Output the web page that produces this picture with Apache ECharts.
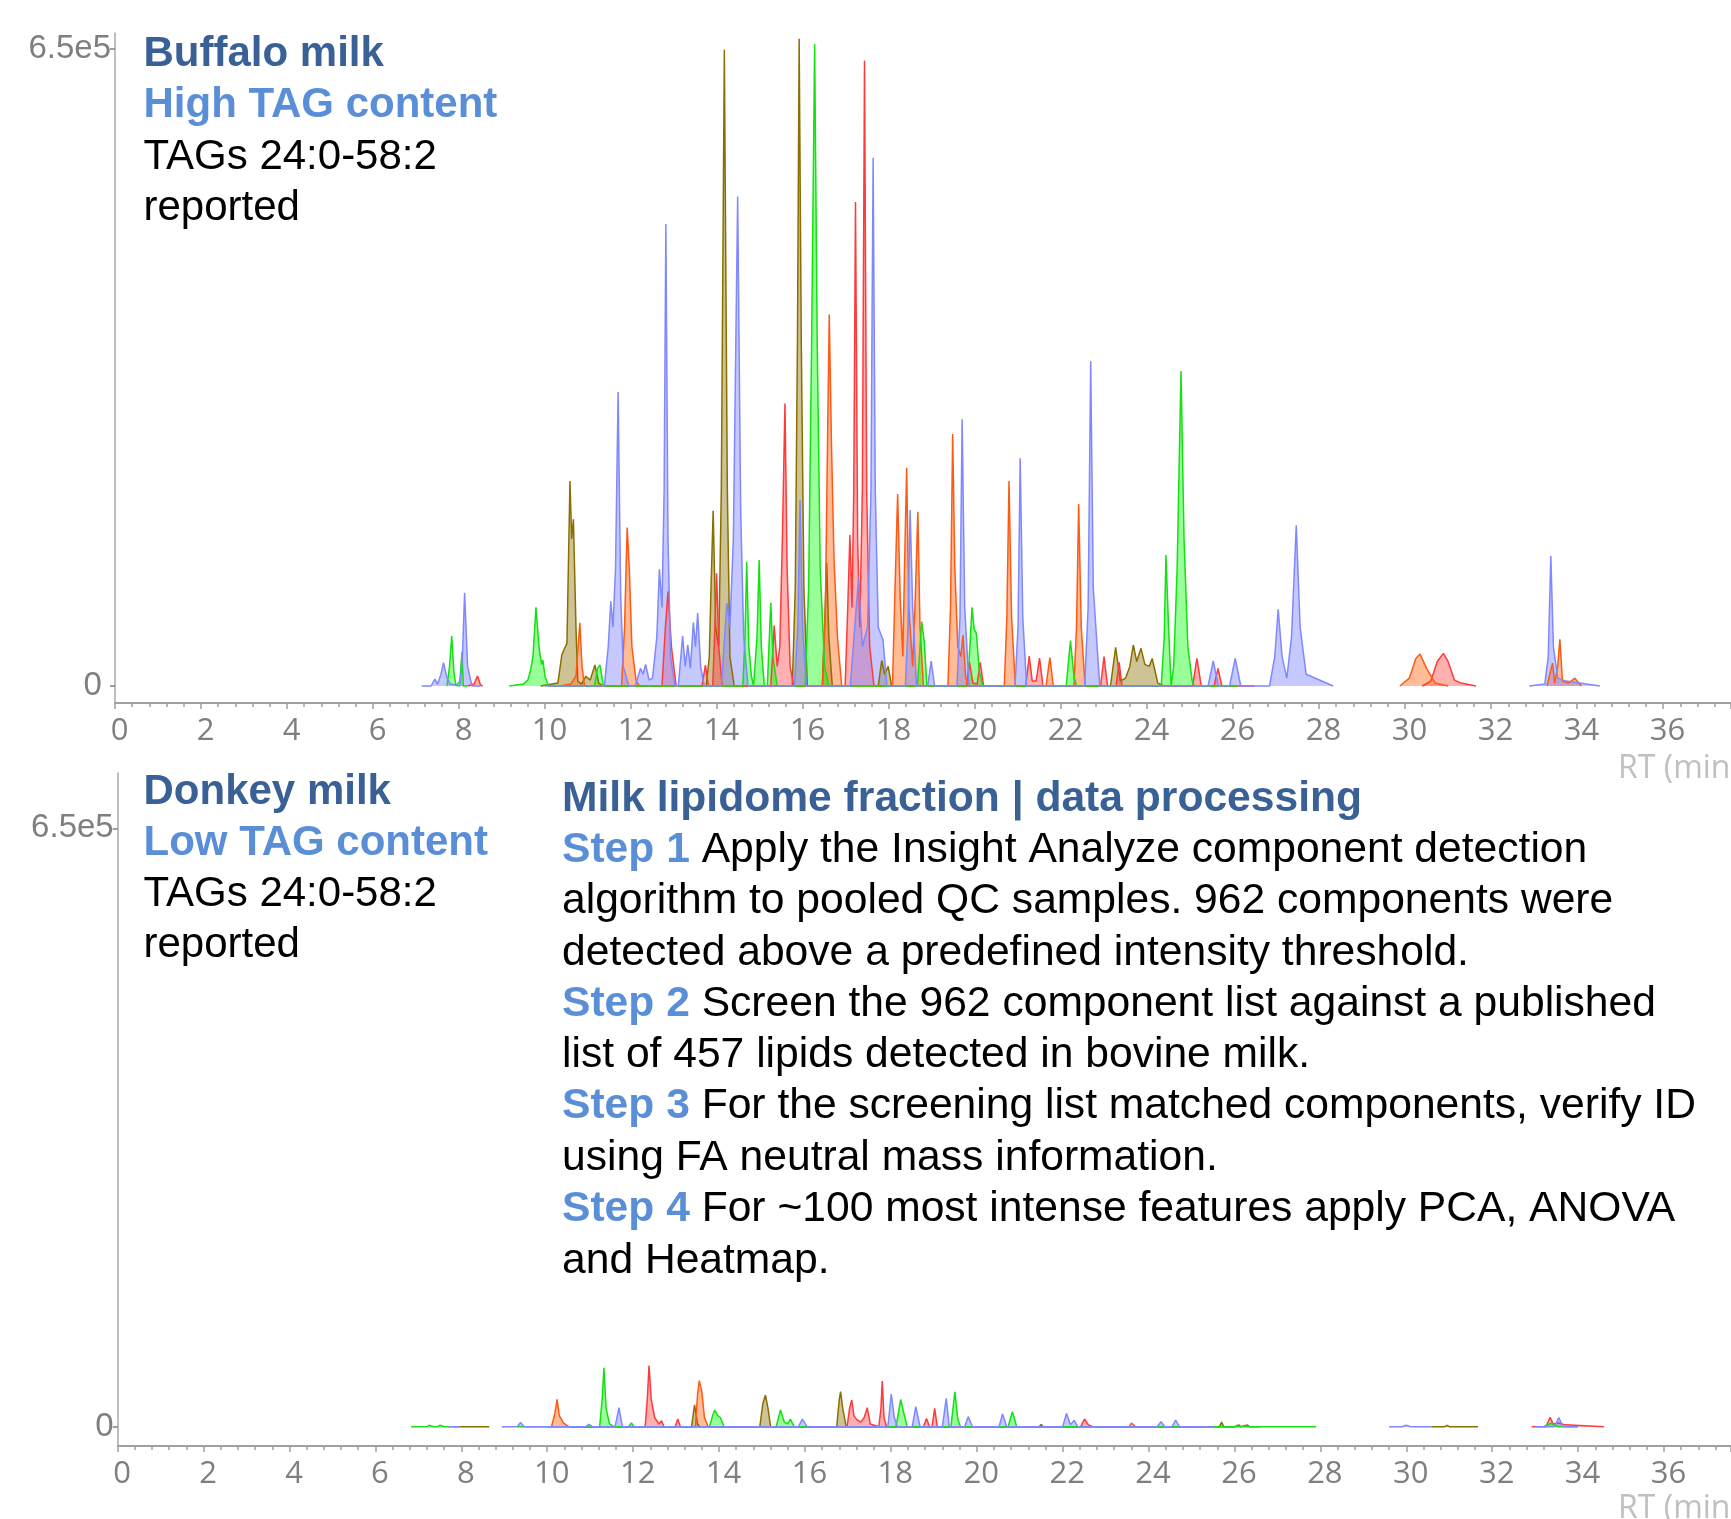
<!DOCTYPE html>
<html>
<head>
<meta charset="utf-8">
<script src="https://cdn.jsdelivr.net/npm/echarts@6.0.0/dist/echarts.min.js"></script>
<style>
  html, body { margin: 0; padding: 0; background: #fff; }
  #chart { width: 1731px; height: 1519px; }
</style>
</head>
<body>
<div id="chart"></div>
<script>
// tick labels
const xTickValues = [0, 2, 4, 6, 8, 10, 12, 14, 16, 18, 20, 22, 24, 26, 28, 30, 32, 34, 36]
const yTickValues = [0, 650000]
const yTickText = ['0', '6.5e5']

// Buffalo milk traces: [RT (min), intensity]
const topBlue = [
  [7.13,0],[7.35,0],[7.44,7000],[7.5,2000],[7.58,12000],[7.64,23800],[7.72,8000],[7.8,2000],[8.02,0],[8.08,30000],[8.13,95100],[8.2,20000],[8.3,0],[8.5,0],[8.5,null],
  [10.0,0],[11.38,0],[11.47,40000],[11.53,86400],[11.58,60000],[11.64,120000],[11.7,299700],[11.76,90000],[11.82,20000],[11.95,0],
  [12.1,0],[12.22,18000],[12.28,12000],[12.34,22000],[12.42,6000],[12.5,8000],[12.6,50000],[12.66,119000],[12.72,80000],[12.77,200000],[12.81,471000],[12.86,150000],[12.92,30000],[13.02,0],
  [13.1,0],[13.2,51000],[13.26,20000],[13.32,42000],[13.38,18000],[13.45,64600],[13.5,40000],[13.55,74400],[13.62,20000],[13.7,0],
  [14.1,0],[14.23,84600],[14.3,60000],[14.38,150000],[14.48,499000],[14.55,180000],[14.62,50000],[14.72,0],
  [15.8,0],[15.88,60000],[15.93,189600],[15.99,60000],[16.08,0],
  [17.1,0],[17.29,110000],[17.38,40000],[17.5,60000],[17.58,200000],[17.63,538500],[17.68,200000],[17.75,60000],[17.86,47000],[17.95,0],
  [18.38,0],[18.44,60000],[18.49,179400],[18.55,80000],[18.64,0],
  [18.9,0],[18.98,25500],[19.06,0],
  [19.58,0],[19.65,70000],[19.7,271900],[19.76,80000],[19.86,0],
  [20.93,0],[21.0,60000],[21.05,232100],[21.11,70000],[21.2,0],
  [22.55,0],[22.63,80000],[22.69,331400],[22.75,100000],[22.9,0],
  [25.42,0],[25.54,25500],[25.66,0],[25.92,0],[26.05,28200],[26.18,0],
  [26.85,0],[26.97,30000],[27.05,78200],[27.14,30000],[27.25,8000],[27.36,50000],[27.47,163800],[27.56,60000],[27.7,12000],[28.33,0],[28.33,null],
  [32.89,0],[33.25,2000],[33.33,30000],[33.39,132500],[33.45,40000],[33.55,8000],[33.75,5000],[34.53,0]
]
const topGreen = [
  [7.72,0],[7.78,20000],[7.83,51000],[7.88,15000],[7.93,0],[8.02,5000],[8.07,35000],[8.1,0],[8.2,0],[8.2,null],
  [9.17,0],[9.5,2000],[9.6,6000],[9.65,13500],[9.72,30000],[9.79,80200],[9.86,40000],[9.92,22000],[9.95,26500],[10.0,10000],[10.08,0],
  [11.15,0],[11.22,18000],[11.28,21400],[11.36,0],
  [14.6,0],[14.65,50000],[14.69,126700],[14.74,40000],[14.8,10000],[14.85,0],[14.93,50000],[14.98,128400],[15.03,40000],[15.1,0],
  [15.17,0],[15.25,84900],[15.3,30000],[15.4,0],
  [16.05,0],[16.13,100000],[16.2,350000],[16.27,654400],[16.33,350000],[16.4,120000],[16.5,20000],[16.6,0],
  [18.66,0],[18.76,65600],[18.82,45000],[18.88,0],
  [19.83,0],[19.93,80200],[19.98,58000],[20.03,54000],[20.1,15000],[20.18,0],
  [22.12,0],[22.22,46200],[22.3,10000],[22.36,0],
  [24.33,0],[24.4,50000],[24.44,133600],[24.5,60000],[24.56,0],[24.62,20000],[24.7,120000],[24.79,321200],[24.86,150000],[24.95,40000],[25.05,5000],[25.1,0],[26.12,0]
]
const topOlive = [
  [9.9,0],[10.3,3000],[10.39,31600],[10.45,38000],[10.51,43500],[10.58,209000],[10.62,150000],[10.66,170000],[10.72,60000],[10.76,5000],[10.85,2000],[10.95,10000],[11.05,6000],[11.16,21400],[11.25,3000],[11.35,0],
  [13.75,0],[13.82,30000],[13.86,100000],[13.91,178700],[13.97,60000],[14.04,40000],[14.1,200000],[14.17,648700],[14.24,200000],[14.3,30000],[14.4,0],
  [15.75,0],[15.82,100000],[15.87,350000],[15.91,660000],[15.96,350000],[16.02,100000],[16.1,0],
  [16.45,0],[16.5,60000],[16.55,125700],[16.6,50000],[16.68,0],
  [17.75,0],[17.83,26000],[17.9,12000],[17.98,20000],[18.06,0],
  [23.15,0],[23.27,39400],[23.38,5000],[23.5,8000],[23.6,20000],[23.68,41800],[23.76,25000],[23.86,38400],[23.95,22000],[24.05,20000],[24.12,28000],[24.25,3000],[24.4,0],[25.0,0]
]
const topRed = [
  [8.2,0],[8.35,2000],[8.43,10200],[8.5,1000],[8.55,0],[8.55,null],
  [10.5,0],[12.72,0],[12.8,60000],[12.86,96600],[12.94,40000],[13.05,0],
  [13.65,0],[13.73,21400],[13.8,0],
  [13.9,0],[13.95,60000],[13.99,115000],[14.04,40000],[14.12,0],
  [15.25,0],[15.33,61600],[15.4,20000],[15.46,40000],[15.52,150000],[15.58,288000],[15.63,120000],[15.7,20000],[15.78,0],
  [16.98,0],[17.04,80000],[17.09,154000],[17.14,80000],[17.18,200000],[17.22,493500],[17.27,150000],[17.32,60000],[17.38,200000],[17.43,637500],[17.48,200000],[17.55,40000],[17.65,0],
  [19.8,0],[19.87,24500],[19.95,3000],[20.05,2000],[20.12,24000],[20.2,0],
  [21.18,0],[21.26,30600],[21.33,5000],[21.42,5000],[21.5,28500],[21.58,0],
  [22.92,0],[23.0,29900],[23.08,0],[23.28,0],[23.35,24000],[23.42,0],
  [25.06,0],[25.16,28200],[25.26,0],[25.56,0],[25.65,18000],[25.74,0],[26.5,0],[26.5,null],
  [30.4,0],[30.6,5000],[30.75,25000],[30.89,33300],[31.0,25000],[31.15,6000],[31.3,3000],[31.65,0]
]
const topOrange = [
  [10.35,0],[10.6,2000],[10.72,10000],[10.81,64500],[10.86,20000],[10.92,0],
  [11.78,0],[11.85,60000],[11.91,161600],[11.96,120000],[12.02,40000],[12.12,5000],[12.2,0],
  [16.45,0],[16.52,80000],[16.57,250000],[16.61,378700],[16.66,250000],[16.72,130000],[16.8,50000],[16.9,0],
  [18.08,0],[18.14,100000],[18.2,195800],[18.26,90000],[18.32,30000],[18.36,120000],[18.41,222500],[18.46,80000],[18.55,20000],[18.61,90000],[18.67,177700],[18.72,60000],[18.8,0],
  [19.37,0],[19.43,80000],[19.48,257000],[19.53,120000],[19.6,40000],[19.67,30000],[19.72,52000],[19.78,10000],[19.85,0],
  [20.68,0],[20.74,70000],[20.79,209000],[20.85,70000],[20.94,0],
  [21.65,0],[21.74,29000],[21.82,0],
  [22.3,0],[22.36,60000],[22.41,185600],[22.47,60000],[22.56,0],[26.0,0],[26.0,null],
  [29.88,0],[30.1,8000],[30.25,28000],[30.35,32600],[30.5,18000],[30.7,3000],[31.0,0],[31.0,null],
  [33.3,0],[33.43,23400],[33.48,3000],[33.55,20000],[33.6,47600],[33.66,5000],[33.8,3000],[33.95,8000],[34.1,0]
]

// Donkey milk traces
const botGreen = [
  [6.83,0],[7.2,0],[7.25,1500],[7.35,0],[7.45,0],[7.5,1500],[7.6,0],[7.75,0],[7.75,null],
  [9.3,0],[11.22,0],[11.28,30000],[11.32,64100],[11.37,20000],[11.45,3000],[11.55,0],
  [11.9,0],[11.96,4000],[12.02,0],
  [13.78,0],[13.85,12000],[13.9,18100],[13.97,12000],[14.03,10000],[14.12,0],
  [15.33,0],[15.43,18100],[15.52,5000],[15.6,3000],[15.66,8300],[15.75,0],
  [18.12,0],[18.23,29700],[18.3,15000],[18.38,0],
  [19.4,0],[19.49,38000],[19.56,8000],[19.62,0],
  [20.73,0],[20.83,16300],[20.93,0],[27.9,0],[27.9,null],
  [33.2,0],[33.38,4000],[33.5,0],[34.0,0]
]
const botBlue = [
  [7.7,0],[7.95,0],[7.95,null],
  [8.94,0],[9.3,0],[9.38,4700],[9.46,0],[10.9,0],[10.97,2500],[11.05,0],[11.58,0],[11.67,20700],[11.75,0],
  [15.85,0],[15.94,8300],[16.05,0],[17.93,0],[18.01,35500],[18.08,10000],[18.15,0],
  [18.5,0],[18.58,21700],[18.68,0],[19.2,0],[19.29,30800],[19.36,0],[19.72,0],[19.8,10900],[19.9,0],
  [20.52,0],[20.6,13800],[20.7,0],[22.0,0],[22.09,14500],[22.18,2000],[22.27,7000],[22.35,0],
  [24.2,0],[24.29,5400],[24.38,0],[24.55,0],[24.63,7200],[24.72,0],[25.5,0],[25.5,null],
  [29.6,0],[29.9,0],[30.0,1500],[30.1,0],[30.6,0],[30.6,null],
  [33.0,0],[33.45,0],[33.55,9800],[33.65,0],[34.0,0]
]
const botRed = [
  [7.8,0],[7.95,0],[7.95,null],
  [10.0,0],[12.28,0],[12.33,30000],[12.37,66300],[12.42,30000],[12.5,10000],[12.6,3000],[12.66,6500],[12.72,0],[12.98,0],[13.04,8400],[13.1,0],
  [16.98,0],[17.04,20000],[17.09,29000],[17.14,12000],[17.2,8000],[17.3,5000],[17.38,10000],[17.45,20700],[17.52,3000],[17.72,0],[17.77,20000],[17.8,49600],[17.84,10000],[17.9,0],
  [18.76,0],[18.83,9000],[18.9,0],[18.96,0],[19.02,20000],[19.08,0],
  [22.42,0],[22.51,8400],[22.6,2000],[22.7,0],[26.0,0],[26.1,2000],[26.15,0],[26.3,2000],[26.35,0],[26.6,0],[26.6,null],
  [32.92,0],[33.25,0],[33.35,10200],[33.42,3000],[33.55,4000],[33.7,2000],[34.6,0]
]
const botOrange = [
  [10.1,0],[10.18,15000],[10.23,29700],[10.28,12000],[10.38,4000],[10.5,0],
  [13.45,0],[13.5,35000],[13.54,50000],[13.6,38000],[13.66,10000],[13.75,0],
  [23.0,0],[23.55,0],[23.6,4000],[23.7,0],[25.0,0]
]
const botOlive = [
  [7.95,0],[8.65,0],[8.65,null],
  [10.5,0],[13.36,0],[13.43,23600],[13.5,3000],[13.55,0],
  [14.95,0],[15.02,25000],[15.08,34400],[15.14,20000],[15.2,0],
  [16.74,0],[16.8,30000],[16.83,38000],[16.88,20000],[16.96,0],
  [21.45,0],[21.5,2500],[21.55,0],[25.65,0],[25.7,5000],[25.75,0],[26.0,0],[26.0,null],
  [30.6,0],[30.9,0],[30.95,1500],[31.0,0],[31.67,0]
]

const chart = echarts.init(document.getElementById('chart'))

const FONT = '"Liberation Sans", Arial, sans-serif'
const colors = {
  blue: '#7f88ff',
  green: '#14e014',
  olive: '#8a6f00',
  red: '#ff3a3a',
  orange: '#ff5a14'
}
const fills = {
  blue: ['#7f88ff', 0.45],
  green: ['#00ff00', 0.4],
  olive: ['#8a6f00', 0.42],
  red: ['#ff3a3a', 0.4],
  orange: ['#ff7a30', 0.5]
}

const trace = (data, key, idx) => ({
  type: 'line',
  data: data,
  xAxisIndex: idx,
  yAxisIndex: idx,
  showSymbol: false,
  symbol: 'none',
  connectNulls: false,
  lineStyle: { color: colors[key], width: 1.5 },
  areaStyle: { color: fills[key][0], opacity: fills[key][1] },
  silent: true
})

const xAxisBase = (idx, max) => ({
  type: 'value',
  gridIndex: idx,
  min: 0,
  max: max,
  interval: 2,
  axisLine: { onZero: false, lineStyle: { color: '#a0a0a0', width: 2 } },
  axisTick: { length: 6, lineStyle: { color: '#a0a0a0', width: 1.5 } },
  minorTick: { show: true, splitNumber: 5, length: 4, lineStyle: { color: '#a0a0a0', width: 1.5 } },
  axisLabel: {
    customValues: xTickValues,
    color: '#7f7f7f',
    fontFamily: '"Open Sans", sans-serif',
    fontSize: 31,
    margin: 13,
    padding: [0, 0, 0, 9]
  },
  splitLine: { show: false }
})

const yAxisBase = (idx, min, max, zeroText) => ({
  type: 'value',
  gridIndex: idx,
  min: min,
  max: max,
  axisLine: { show: true, lineStyle: { color: '#a8a8a8', width: 1.5 } },
  axisTick: { show: true, customValues: yTickValues, length: 5, lineStyle: { color: '#808080', width: 1.5 } },
  axisLabel: {
    customValues: yTickValues,
    formatter: (v) => (v === 0 ? zeroText : yTickText[yTickValues.indexOf(v)]),
    color: '#7f7f7f',
    fontFamily: FONT,
    fontSize: 33,
    margin: 4,
    padding: [11, 0, 0, 0]
  },
  splitLine: { show: false }
})

const txt = (x, y, text, opts) => ({
  type: 'text',
  x: x,
  y: y,
  silent: true,
  style: Object.assign({
    text: text,
    fill: '#000',
    font: '42px ' + FONT,
    verticalAlign: 'middle'
  }, opts || {})
})

const dark = '#3a6196'
const light = '#5a8fd8'
const bold = 'bold 42px ' + FONT
const boldR = 'bold 42.6px ' + FONT
const reg = '42.6px ' + FONT
const stepRich = { s: { fill: light, fontWeight: 'bold', fontSize: 42.6, fontFamily: FONT } }
const rtFont = '32px "Open Sans", sans-serif'

chart.setOption({
  animation: false,
  backgroundColor: '#fff',
  grid: [
    { left: 115, top: 33, right: 0, height: 670 },
    { left: 117.7, top: 773, right: 0, height: 673 }
  ],
  xAxis: [xAxisBase(0, 37.58), xAxisBase(1, 37.56)],
  yAxis: [yAxisBase(0, -17330, 665800, '0 '), yAxisBase(1, -20960, 710070, '0')],
  series: [
    trace(topOlive, 'olive', 0),
    trace(topRed, 'red', 0),
    trace(topOrange, 'orange', 0),
    trace(topGreen, 'green', 0),
    trace(topBlue, 'blue', 0),
    trace(botOlive, 'olive', 1),
    trace(botRed, 'red', 1),
    trace(botOrange, 'orange', 1),
    trace(botGreen, 'green', 1),
    trace(botBlue, 'blue', 1)
  ],
  graphic: [
    txt(143.5, 54, 'Buffalo milk', { fill: dark, font: bold }),
    txt(143.5, 105, 'High TAG content', { fill: light, font: bold }),
    txt(143.5, 157, 'TAGs 24:0-58:2'),
    txt(143.5, 208, 'reported'),
    txt(1618, 769, 'RT (min)', { fill: '#c0c0c0', font: rtFont }),

    txt(143.5, 792, 'Donkey milk', { fill: dark, font: bold }),
    txt(143.5, 843, 'Low TAG content', { fill: light, font: bold }),
    txt(143.5, 894, 'TAGs 24:0-58:2'),
    txt(143.5, 945, 'reported'),
    txt(1618, 1509, 'RT (min)', { fill: '#c0c0c0', font: rtFont }),

    txt(562, 799.5, 'Milk lipidome fraction | data processing', { fill: dark, font: boldR }),
    txt(562, 850.5, '{s|Step 1} Apply the Insight Analyze component detection', { rich: stepRich, font: reg }),
    txt(562, 901.5, 'algorithm to pooled QC samples. 962 components were', { font: reg }),
    txt(562, 953, 'detected above a predefined intensity threshold.', { font: reg }),
    txt(562, 1004.5, '{s|Step 2} Screen the 962 component list against a published', { rich: stepRich, font: reg }),
    txt(562, 1055.5, 'list of 457 lipids detected in bovine milk.', { font: reg }),
    txt(562, 1106.5, '{s|Step 3} For the screening list matched components, verify ID', { rich: stepRich, font: reg }),
    txt(562, 1158.5, 'using FA neutral mass information.', { font: reg }),
    txt(562, 1209.5, '{s|Step 4} For ~100 most intense features apply PCA, ANOVA', { rich: stepRich, font: reg }),
    txt(562, 1261, 'and Heatmap.', { font: reg })
  ]
})
</script>
</body>
</html>
